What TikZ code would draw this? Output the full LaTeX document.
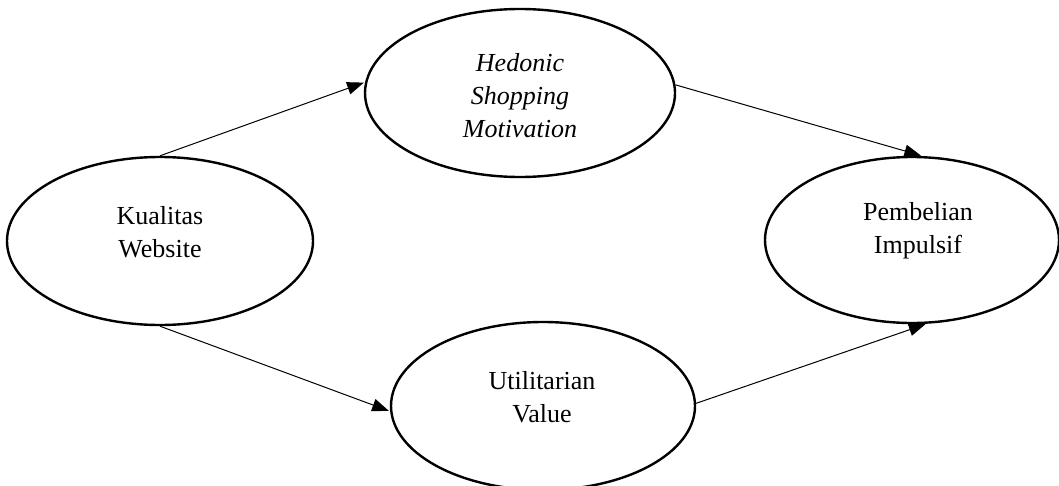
\documentclass[tikz,border=0pt]{standalone}
\usepackage{fontspec}
\setmainfont{Liberation Serif}
\usetikzlibrary{shapes.geometric,arrows.meta}
\tikzset{
  ell/.style={ellipse, draw, line width=1.8pt, inner sep=0pt},
  lbl/.style={align=center, font=\fontsize{19.5}{24.75}\selectfont, inner sep=0pt},
  conn/.style={line width=0.75pt, -{Triangle[length=12.5pt,width=9.5pt]}, shorten >=1pt}
}
\begin{document}
\begin{tikzpicture}[x=0.75pt,y=-0.75pt]
\useasboundingbox (0,0) rectangle (1059,485);
\clip (0,0) rectangle (1059,485);
\node[ell, minimum width=229.5pt, minimum height=126pt] (kw) at (160,241) {};
\node[ell, minimum width=232.5pt, minimum height=126pt] (hsm) at (520,93) {};
\node[ell, minimum width=220.5pt, minimum height=124.5pt] (pi) at (912,240) {};
\node[ell, minimum width=228pt, minimum height=126pt] (uv) at (543,406) {};
\node[lbl] (kwt) at (160,232) {Kualitas\\Website};
\node[lbl] (hsmt) at (520,96) {\itshape Hedonic\\\itshape Shopping\\\itshape Motivation};
\node[lbl] (pit) at (918,231) {Pembelian\\Impulsif};
\node[lbl] (uvt) at (542,397) {Utilitarian\\Value};
\draw[conn] (kw.north) -- (hsm.176);
\draw[conn] (kw.south) -- (uv.182);
\draw[conn] (hsm.3) -- (pi.83);
\draw[conn] (uv.1) -- (pi.280);
\end{tikzpicture}
\end{document}
